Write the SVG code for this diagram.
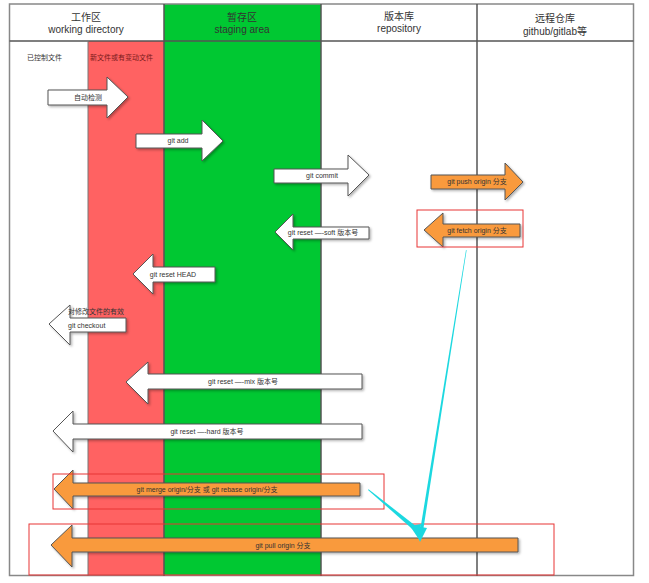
<svg xmlns="http://www.w3.org/2000/svg" width="649" height="583" viewBox="0 0 649 583">
<defs>
<filter id="sh" x="-10%" y="-10%" width="130%" height="140%">
<feDropShadow dx="1.5" dy="1.5" stdDeviation="0.8" flood-color="#000" flood-opacity="0.3"/>
</filter>
<style>
.hd{font-family:"Liberation Sans","Noto Sans CJK SC",sans-serif;font-size:10px;fill:#333;text-anchor:middle}
.lb{font-family:"Liberation Sans","Noto Sans CJK SC",sans-serif;font-size:7px;fill:#333;text-anchor:middle;dominant-baseline:middle}
.sm{font-family:"Liberation Sans","Noto Sans CJK SC",sans-serif;font-size:7px;fill:#333}
.wa{fill:#fff;stroke:#555;stroke-width:1;filter:url(#sh)}
.oa{fill:#f99a3e;stroke:#555;stroke-width:1;filter:url(#sh)}
.rb{fill:none;stroke:#e83535;stroke-width:1}
.col{stroke:#555;stroke-width:1.5}
</style>
</defs>
<rect width="649" height="583" fill="#fff"/>
<g id="columns">
<rect x="88" y="41" width="76" height="535" fill="#ff6262"/>
<rect x="164" y="4" width="157" height="572" fill="#00c832"/>
<rect x="9.5" y="4" width="624" height="571.5" fill="none" stroke="#888" stroke-width="1.5"/>
<line x1="9.5" y1="41" x2="633.5" y2="41" class="col"/>
<line x1="164" y1="4" x2="164" y2="576" class="col"/>
<line x1="321" y1="4" x2="321" y2="576" class="col"/>
<line x1="477" y1="4" x2="477" y2="576" class="col"/>
<line x1="88" y1="41" x2="88" y2="576" stroke="#777" stroke-width="1"/>
</g>
<g id="headers">
<text class="hd" x="86" y="21">工作区</text>
<text class="hd" x="86" y="33">working directory</text>
<text class="hd" x="242" y="21">暂存区</text>
<text class="hd" x="242" y="33">staging area</text>
<text class="hd" x="399" y="20">版本库</text>
<text class="hd" x="399" y="32">repository</text>
<text class="hd" x="555" y="22">远程仓库</text>
<text class="hd" x="555" y="35">github/gitlab等</text>
<text class="sm" x="27" y="60">已控制文件</text>
<text class="sm" x="90" y="60" fill="#7a1010" style="fill:#7a1a1a">新文件或有变动文件</text>
</g>
<g id="connectors">
<g id="n-auto"><path class="wa" d="M48,90 L107,90 L107,77 L128,97 L107,118 L107,105 L48,105 Z"/><text class="lb" x="88" y="98">自动检测</text></g>
<g id="n-add"><path class="wa" d="M136,134 L202,134 L202,120 L223,141 L202,161 L202,148 L136,148 Z"/><text class="lb" x="178" y="141.5">git add</text></g>
<g id="n-commit"><path class="wa" d="M274,169 L348,169 L348,155 L369,175 L348,196 L348,183 L274,183 Z"/><text class="lb" x="322" y="176">git commit</text></g>
<g id="n-push"><path class="oa" d="M431,175 L505,175 L505,163 L523,182 L505,200 L505,189 L431,189 Z"/><text class="lb" x="477" y="182.5">git push origin 分支</text></g>
<g id="n-soft"><path class="wa" d="M275,232 L293,214 L293,227 L369,227 L369,239 L293,239 L293,250 Z"/><text class="lb" x="323" y="233">git reset —-soft 版本号</text></g>
<g id="n-fetch"><path class="oa" d="M424,230 L443,213 L443,224 L520,224 L520,237 L443,237 L443,247 Z"/><text class="lb" x="477" y="231">git fetch origin  分支</text><rect class="rb" x="417" y="210" width="106" height="37"/></g>
<g id="n-head"><path class="wa" d="M133,274 L153,254 L153,267 L215,267 L215,282 L153,282 L153,294 Z"/><text class="lb" x="173" y="275">git reset HEAD</text></g>
<g id="n-checkout"><path class="wa" d="M49,324 L70,305 L70,318 L126,318 L126,332 L70,332 L70,345 Z"/><text class="sm" x="68" y="314">对修改文件的有效</text><text class="sm" x="68" y="327.5">git checkout</text></g>
<g id="n-mix"><path class="wa" d="M126,382 L148,362 L148,374 L362,374 L362,389 L148,389 L148,404 Z"/><text class="lb" x="243" y="382">git reset —-mix 版本号</text></g>
<g id="n-hard"><path class="wa" d="M53,431 L73,411 L73,424 L362,424 L362,439 L73,439 L73,452 Z"/><text class="lb" x="207" y="432">git reset —-hard 版本号</text></g>
<g id="n-merge"><path class="oa" d="M54,489 L73,470 L73,483 L360,483 L360,496 L73,496 L73,509 Z"/><text class="lb" x="207" y="490">git merge origin/分支 或 git rebase origin/分支</text><rect class="rb" x="53" y="474" width="331" height="35"/></g>
<g id="n-pull"><path class="oa" d="M51,545 L72,525 L72,538 L518,538 L518,552 L72,552 L72,567 Z"/><text class="lb" x="283" y="546">git pull origin  分支</text><rect class="rb" x="29" y="524" width="525" height="51"/></g>
<g id="cyan" fill="#1cd8e0">
<path d="M466,250 L466.6,250.2 L423.5,528 L420.5,528 Z"/>
<path d="M415,526 L427,528 L420,542 Z"/>
<path d="M368,490 L368.6,489.2 L417,527 L414,530.5 Z"/>
<path d="M410,526 L421,524 L420,541 Z"/>
</g>
</g>
</svg>
